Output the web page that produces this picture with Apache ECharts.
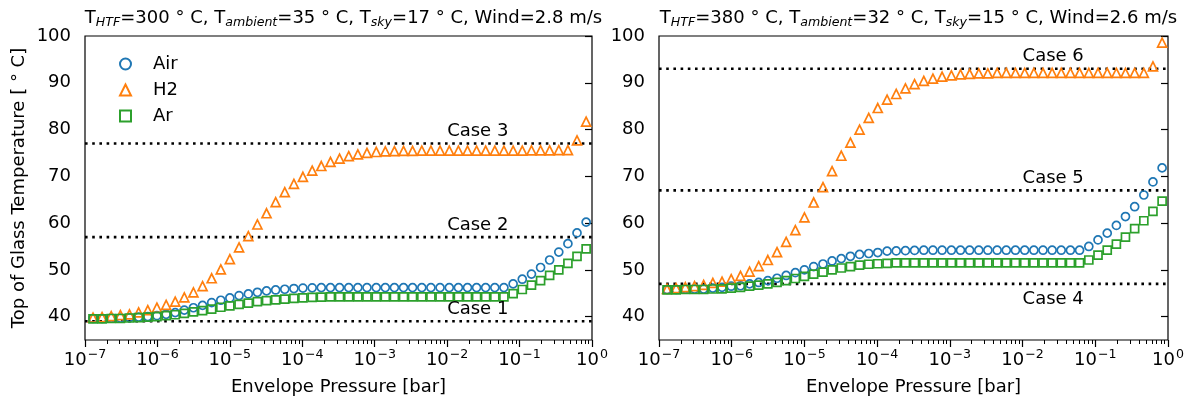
<!DOCTYPE html>
<html>
<head>
<meta charset="utf-8">
<script src="https://cdn.jsdelivr.net/npm/echarts@6/dist/echarts.min.js"></script>
<style>
html, body { margin: 0; padding: 0; background: #fff; }
#main { width: 1190px; height: 401px; }
</style>
</head>
<body>
<div id="main"></div>
<script>
// envelope pressure [bar], same sweep in both panels
var pressure = [1.29e-7, 1.72e-7, 2.30e-7, 3.08e-7, 4.11e-7, 5.50e-7, 7.36e-7, 9.84e-7,
    1.32e-6, 1.76e-6, 2.35e-6, 3.14e-6, 4.20e-6, 5.61e-6, 7.50e-6,
    1.00e-5, 1.34e-5, 1.80e-5, 2.40e-5, 3.21e-5, 4.29e-5, 5.73e-5, 7.66e-5,
    1.02e-4, 1.37e-4, 1.83e-4, 2.45e-4, 3.27e-4, 4.38e-4, 5.85e-4, 7.82e-4,
    1.05e-3, 1.40e-3, 1.87e-3, 2.50e-3, 3.33e-3, 4.47e-3, 5.97e-3, 7.98e-3,
    1.07e-2, 1.43e-2, 1.91e-2, 2.55e-2, 3.40e-2, 4.55e-2, 6.08e-2, 8.15e-2,
    0.109, 0.146, 0.195, 0.260, 0.348, 0.465, 0.621, 0.830]

// left panel: T_HTF=300
var airLeft = [39.6, 39.6, 39.7, 39.7, 39.8, 39.9, 40.0, 40.2, 40.5,
    40.85, 41.4, 41.9, 42.4, 43.0, 43.5, 44.0, 44.5, 44.85, 45.2, 45.5, 45.7, 45.85, 46.0, 46.1, 46.15, 46.2,
    46.2, 46.2, 46.2, 46.2, 46.2, 46.2, 46.2, 46.2, 46.2, 46.2, 46.2, 46.2, 46.2, 46.2, 46.2, 46.2, 46.2, 46.2, 46.2, 46.2,
    47.0, 48.0, 49.1, 50.5, 52.1, 53.8, 55.6, 57.9, 60.2]
var h2Left = [39.8, 39.9, 40.1, 40.3, 40.5, 40.9, 41.4, 41.9, 42.5, 43.2, 44.1, 45.2, 46.5, 48.2, 50.1, 52.3,
    54.8, 57.2, 59.7, 62.1, 64.5, 66.6, 68.4, 69.9, 71.2, 72.2, 73.1, 73.8, 74.3, 74.7, 75.0, 75.2, 75.35,
    75.4, 75.45, 75.45, 75.5, 75.5, 75.5, 75.5, 75.5, 75.5, 75.5, 75.5, 75.5, 75.5, 75.5, 75.5, 75.55, 75.55, 75.55, 75.6, 75.6,
    77.7, 81.7]
var arLeft = [39.5, 39.5, 39.6, 39.6, 39.7, 39.8, 39.9, 40.0, 40.2,
    40.4, 40.7, 41.0, 41.3, 41.6, 42.0, 42.3, 42.6, 42.9, 43.2, 43.4, 43.6, 43.75, 43.9, 44.0, 44.1, 44.15,
    44.2, 44.2, 44.2, 44.2, 44.2, 44.2, 44.2, 44.2, 44.2, 44.2, 44.2, 44.2, 44.2, 44.2, 44.2, 44.2, 44.2, 44.2, 44.2, 44.2,
    44.9, 45.8, 46.75, 47.7, 48.8, 50.0, 51.4, 52.9, 54.5]

// right panel: T_HTF=380
var airRight = [45.8, 45.8, 45.9,
    45.9, 45.9, 46.1, 46.25, 46.5, 46.6, 47.0, 47.3, 47.7, 48.2, 48.8, 49.4, 50.0, 50.7, 51.25, 51.9, 52.4, 52.9, 53.3, 53.5, 53.7, 54.0,
    54.05, 54.1, 54.15, 54.2, 54.2, 54.2, 54.2, 54.2, 54.2, 54.2, 54.2, 54.2, 54.2, 54.2, 54.2, 54.2, 54.2, 54.2, 54.2, 54.2, 54.2,
    55.0, 56.4, 57.85, 59.5, 61.4, 63.5, 66.0, 68.8, 71.8]
var h2Right = [45.9, 46.1, 46.3, 46.5, 46.8, 47.2, 47.5, 48.0, 48.7, 49.6, 50.8, 52.1, 53.8, 56.0, 58.5, 61.2, 64.4, 67.7,
    71.1, 74.4, 77.2, 80.0, 82.5, 84.6, 86.4, 87.6, 88.8, 89.7, 90.4, 90.9, 91.3, 91.6, 91.8,
    91.9, 92.0, 92.0, 92.1, 92.1, 92.1, 92.1, 92.1, 92.1, 92.1, 92.1, 92.1, 92.1, 92.1, 92.1, 92.1, 92.1, 92.1, 92.1, 92.1,
    93.5, 98.6]
var arRight = [45.7, 45.7, 45.8,
    45.8, 45.8, 45.9, 45.95, 46.1, 46.25, 46.5, 46.75, 47.0, 47.3, 47.7, 48.15, 48.6, 49.1, 49.5, 50.0, 50.4, 50.7, 51.0, 51.2, 51.3, 51.4,
    51.5, 51.5, 51.5, 51.5, 51.5, 51.5, 51.5, 51.5, 51.5, 51.5, 51.5, 51.5, 51.5, 51.5, 51.5, 51.5, 51.5, 51.5, 51.5, 51.5, 51.5,
    52.1, 53.15, 54.2, 55.5, 57.0, 58.8, 60.5, 62.5, 64.7]

// reference cases (dotted lines)
var caseLeft = [39, 57, 77]
var caseLeftNames = ['Case 1', 'Case 2', 'Case 3']
var caseRight = [47, 67, 93]
var caseRightNames = ['Case 4', 'Case 5', 'Case 6']
var caseLabelX = 1e-2
var caseBelow = ['Case 4']

var decadeTicks = [-7, -6, -5, -4, -3, -2, -1, 0]
var tempTicks = [40, 50, 60, 70, 80, 90, 100]
var seriesNames = ['Air', 'H2', 'Ar']
var colors = ['#1f77b4', '#ff7f0e', '#2ca02c']
var symbols = ['circle', 'triangle', 'rect']

var titles = [
    '{n|T}{s|HTF}{n|=300 ° C, T}{s|ambient}{n|=35 ° C, T}{s|sky}{n|=17 ° C, Wind=2.8 m/s}',
    '{n|T}{s|HTF}{n|=380 ° C, T}{s|ambient}{n|=32 ° C, T}{s|sky}{n|=15 ° C, Wind=2.6 m/s}'
]

var FONT = 'DejaVu Sans'
var FS = 18

var minorTicks = []
decadeTicks.forEach(d => {
    if (d === 0) return
    for (let m = 2; m <= 9; m++) minorTicks.push(d + Math.log10(m))
})

var gridBoxes = [
    {left: 85, top: 36, width: 507, height: 307},
    {left: 659, top: 36, width: 509, height: 307}
]

function pairs(ys) {
    return pressure.map((p, i) => [p, ys[i]])
}

var xAxis = [], yAxis = [], series = []
gridBoxes.forEach((g, gi) => {
    // log axis used for the data
    xAxis.push({type: 'log', logBase: 10, gridIndex: gi, min: 1e-7, max: 1, show: false, position: 'bottom'})
    // decade labels + major ticks
    xAxis.push({
        type: 'value', gridIndex: gi, min: -7, max: 0, interval: 1, position: 'bottom',
        name: 'Envelope Pressure [bar]', nameLocation: 'middle', nameGap: 38,
        nameTextStyle: {fontFamily: FONT, fontSize: FS, color: '#000'},
        axisLine: {show: false},
        axisTick: {show: true, length: 7, lineStyle: {color: '#000', width: 1.2}},
        axisLabel: {
            margin: 8, color: '#000', fontFamily: FONT,
            formatter: v => '{b|10}{s|' + (v === 0 ? '0' : '\u2212' + (-v)) + '}',
            rich: {
                b: {fontSize: FS, fontFamily: FONT, color: '#000'},
                s: {fontSize: 12.6, fontFamily: FONT, color: '#000', padding: [0, 0, 12, 1]}
            }
        },
        splitLine: {show: false}
    })
    // minor ticks
    xAxis.push({
        type: 'value', gridIndex: gi, min: -7, max: 0, position: 'bottom',
        axisLine: {show: false}, axisLabel: {show: false}, splitLine: {show: false},
        axisTick: {show: true, length: 4, customValues: minorTicks, lineStyle: {color: '#000', width: 1}}
    })
    yAxis.push({
        type: 'value', gridIndex: gi, min: 35, max: 100,
        name: gi === 0 ? 'Top of Glass Temperature [ ° C]' : '',
        nameLocation: 'middle', nameGap: 57,
        nameTextStyle: {fontFamily: FONT, fontSize: FS, color: '#000'},
        axisLine: {show: false},
        axisTick: {show: true, length: 7, customValues: tempTicks, lineStyle: {color: '#000', width: 1.2}},
        axisLabel: {customValues: tempTicks, margin: 14, fontFamily: FONT, fontSize: FS, color: '#000'},
        splitLine: {show: false}
    })
})

var panels = [
    {data: [airLeft, h2Left, arLeft], cases: caseLeft, names: caseLeftNames},
    {data: [airRight, h2Right, arRight], cases: caseRight, names: caseRightNames}
]

panels.forEach((p, gi) => {
    var xi = gi * 3
    p.cases.forEach((v, ci) => {
        series.push({
            type: 'line', xAxisIndex: xi, yAxisIndex: gi, silent: true, z: 1,
            symbol: 'none', data: [[1e-7, v], [1, v]],
            lineStyle: {color: '#000', width: 2.6, type: [2.6, 4.6]}
        })
        var below = caseBelow.indexOf(p.names[ci]) >= 0
        series.push({
            type: 'scatter', xAxisIndex: xi, yAxisIndex: gi, silent: true, z: 4,
            symbolSize: 0,
            itemStyle: {opacity: 1},
            data: [{value: [caseLabelX, v], name: p.names[ci]}],
            label: {
                show: true, formatter: '{b}', fontFamily: FONT, fontSize: FS, color: '#000', opacity: 1,
                position: below ? [0, 6] : [0, -21], align: 'left'
            }
        })
    })
    p.data.forEach((ys, si) => {
        series.push({
            type: 'scatter', name: seriesNames[si], xAxisIndex: xi, yAxisIndex: gi, z: 3,
            symbol: symbols[si], symbolSize: si === 1 ? 9 : 8,
            data: pairs(ys),
            itemStyle: {color: 'rgba(255,255,255,0)', borderColor: colors[si], borderWidth: 1.7, opacity: 1}
        })
    })
})

var chart = echarts.init(document.getElementById('main'), null, {renderer: 'canvas'})
chart.setOption({
    animation: false,
    backgroundColor: '#fff',
    title: titles.map((t, i) => ({
        text: t,
        left: gridBoxes[i].left + gridBoxes[i].width / 2,
        textAlign: 'center',
        top: 3,
        textStyle: {
            fontWeight: 'normal',
            rich: {
                n: {fontFamily: FONT, fontSize: FS, fontWeight: 'normal', color: '#000'},
                s: {fontFamily: FONT, fontSize: 12.6, fontWeight: 'normal', fontStyle: 'italic', color: '#000', padding: [8, 0, 0, 0]}
            }
        }
    })),
    legend: {
        left: 114, top: 50, orient: 'vertical',
        itemWidth: 11, itemHeight: 11, itemGap: 8,
        data: seriesNames,
        itemStyle: {opacity: 1},
        textStyle: {fontFamily: FONT, fontSize: FS, color: '#000', padding: [0, 0, 0, 17]}
    },
    grid: gridBoxes.map(g => ({...g, show: true, borderColor: '#000', borderWidth: 1.2})),
    xAxis: xAxis,
    yAxis: yAxis,
    series: series
})
</script>
</body>
</html>
